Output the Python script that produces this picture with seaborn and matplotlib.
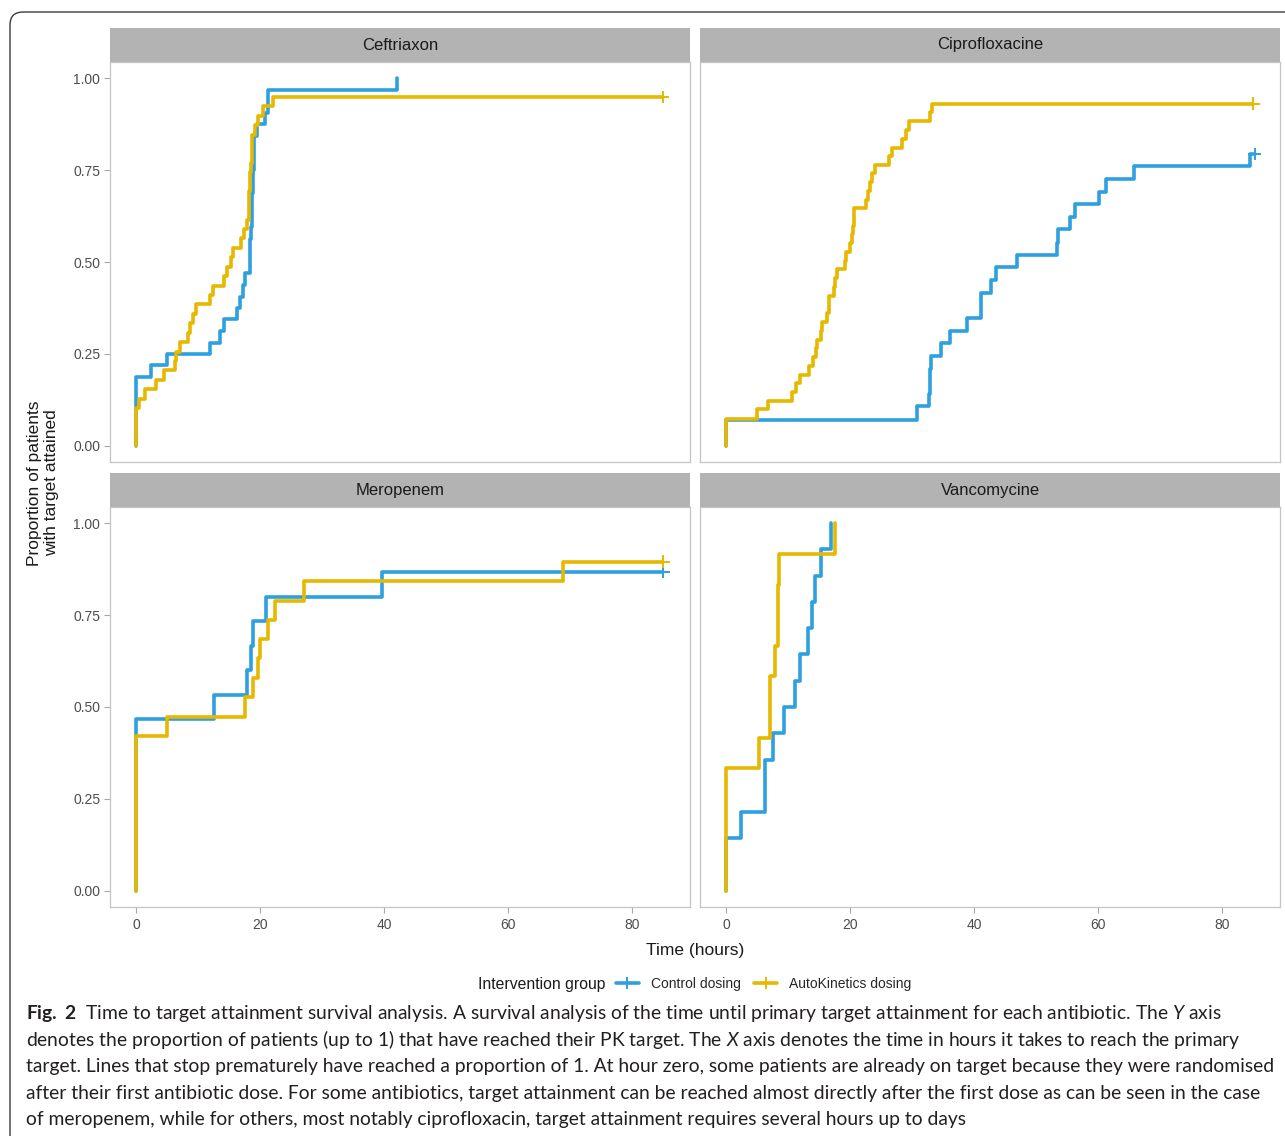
import numpy as np
import pandas as pd
import matplotlib
matplotlib.use('Agg')
import matplotlib.pyplot as plt
import seaborn as sns
from matplotlib.lines import Line2D
from matplotlib.patches import FancyBboxPatch

# values: time in hours, proportion with target attained
drugs = ['Ceftriaxon', 'Ciprofloxacine', 'Meropenem', 'Vancomycine']
groups = ['Control dosing', 'AutoKinetics dosing']

ceft_ctrl_t = [0, 0, 2.3, 5.0, 11.9, 13.5, 14.2, 16.3, 16.7, 17.2, 17.6, 18.3, 18.35, 18.4, 18.45,
               18.6, 18.65, 18.7, 18.75, 18.8, 18.95, 19.0, 19.05, 19.4, 20.7, 21.2, 42.0]
ceft_ctrl_p = [0, 0.188, 0.219, 0.25, 0.281, 0.313, 0.344, 0.375, 0.406, 0.438, 0.469, 0.5, 0.531,
               0.563, 0.594, 0.625, 0.656, 0.688, 0.719, 0.75, 0.781, 0.813, 0.844, 0.875, 0.906, 0.969, 1.0]
ceft_ak_t = [0, 0, 0.5, 1.35, 3.2, 4.4, 6.3, 6.35, 7.0, 8.4, 8.7, 9.1, 9.7, 11.8, 12.4, 14.2, 14.7,
             15.3, 15.6, 16.8, 17.4, 17.85, 18.1, 18.15, 18.2, 18.3, 18.4, 18.45, 18.6, 18.65, 18.7,
             19.2, 19.7, 20.4, 22.1, 85.0]
ceft_ak_p = [0, 0.103, 0.128, 0.154, 0.179, 0.205, 0.231, 0.256, 0.282, 0.308, 0.333, 0.359, 0.385,
             0.41, 0.436, 0.462, 0.487, 0.513, 0.538, 0.564, 0.59, 0.615, 0.641, 0.667, 0.692, 0.718,
             0.744, 0.769, 0.795, 0.821, 0.846, 0.872, 0.897, 0.923, 0.949, 0.949]

cipro_ctrl_t = [0, 0, 30.75, 32.7, 32.8, 32.9, 33.0, 34.6, 36.1, 38.8, 41.0, 41.05, 42.7, 43.5, 46.8,
                53.4, 53.45, 55.4, 56.3, 60.05, 61.2, 65.8, 84.4, 85.2]
cipro_ctrl_p = [0, 0.071, 0.107, 0.141, 0.175, 0.208, 0.243, 0.279, 0.313, 0.347, 0.382, 0.417, 0.451,
                0.486, 0.519, 0.553, 0.589, 0.623, 0.658, 0.691, 0.726, 0.761, 0.794, 0.794]
cipro_ak_t = [0, 0, 4.95, 6.7, 10.6, 11.3, 11.8, 13.3, 14.0, 14.5, 14.55, 15.2, 15.4, 16.2, 16.5, 16.55,
              17.3, 17.6, 17.85, 19.1, 19.35, 20.0, 20.3, 20.4, 20.6, 20.65, 22.6, 22.85, 23.2, 23.5,
              23.9, 26.2, 26.7, 28.3, 29.0, 29.5, 32.8, 33.2, 85.0]
cipro_ak_p = [0, 0.074, 0.099, 0.123, 0.147, 0.17, 0.194, 0.218, 0.241, 0.265, 0.288, 0.312, 0.336,
              0.36, 0.384, 0.408, 0.431, 0.456, 0.48, 0.503, 0.527, 0.551, 0.575, 0.598, 0.622, 0.646,
              0.669, 0.693, 0.717, 0.741, 0.764, 0.788, 0.811, 0.835, 0.859, 0.883, 0.907, 0.931, 0.931]

mero_ctrl_t = [0, 0, 12.6, 17.85, 18.5, 18.8, 20.9, 39.7, 85.0]
mero_ctrl_p = [0, 0.467, 0.533, 0.6, 0.667, 0.733, 0.8, 0.867, 0.867]
mero_ak_t = [0, 0, 4.95, 17.6, 18.8, 19.7, 20.0, 21.2, 22.4, 27.1, 68.8, 85.0]
mero_ak_p = [0, 0.421, 0.474, 0.526, 0.579, 0.632, 0.684, 0.737, 0.789, 0.842, 0.895, 0.895]

vanco_ctrl_t = [0, 0, 2.4, 6.2, 6.3, 7.5, 9.25, 11.0, 11.9, 13.1, 13.8, 14.35, 15.2, 16.9]
vanco_ctrl_p = [0, 0.143, 0.214, 0.286, 0.357, 0.429, 0.5, 0.571, 0.643, 0.714, 0.786, 0.857, 0.929, 1.0]
vanco_ak_t = [0, 0, 5.3, 7.0, 7.1, 7.9, 8.3, 8.4, 8.5, 17.5]
vanco_ak_p = [0, 0.333, 0.417, 0.5, 0.583, 0.667, 0.75, 0.833, 0.917, 1.0]

# censored at end of follow-up (drawn with +)
censored = [('Ceftriaxon', 'AutoKinetics dosing'), ('Ciprofloxacine', 'Control dosing'),
            ('Ciprofloxacine', 'AutoKinetics dosing'), ('Meropenem', 'Control dosing'),
            ('Meropenem', 'AutoKinetics dosing')]

series = [
    ('Ceftriaxon', 'Control dosing', ceft_ctrl_t, ceft_ctrl_p),
    ('Ceftriaxon', 'AutoKinetics dosing', ceft_ak_t, ceft_ak_p),
    ('Ciprofloxacine', 'Control dosing', cipro_ctrl_t, cipro_ctrl_p),
    ('Ciprofloxacine', 'AutoKinetics dosing', cipro_ak_t, cipro_ak_p),
    ('Meropenem', 'Control dosing', mero_ctrl_t, mero_ctrl_p),
    ('Meropenem', 'AutoKinetics dosing', mero_ak_t, mero_ak_p),
    ('Vancomycine', 'Control dosing', vanco_ctrl_t, vanco_ctrl_p),
    ('Vancomycine', 'AutoKinetics dosing', vanco_ak_t, vanco_ak_p),
]

rows = []
for drug, grp, tt, pp in series:
    for ti, pi in zip(tt, pp):
        rows.append({'drug': drug, 'group': grp, 'time': ti, 'prop': pi})
df = pd.DataFrame(rows)
cens = df.groupby(['drug', 'group']).tail(1)
cens = cens[[(d, g) in censored for d, g in zip(cens['drug'], cens['group'])]]

pal = {'Control dosing': '#2E9FDF', 'AutoKinetics dosing': '#E7B800'}

sns.set_theme(style='white')
plt.rcParams['font.family'] = ['Liberation Sans', 'DejaVu Sans']
plt.rcParams['mathtext.fontset'] = 'custom'
plt.rcParams['mathtext.rm'] = 'Lato'
plt.rcParams['mathtext.it'] = 'Lato:italic'
plt.rcParams['mathtext.bf'] = 'Lato:bold'

W, H = 1285, 1136
fig = plt.figure(figsize=(W / 100, H / 100), dpi=100)
fig.patch.set_facecolor('white')

def fx(px):
    return px / W

def fy(py):
    return 1 - py / H

# rounded border of the figure box
box = FancyBboxPatch((0.10, -1.0), 14.0, 12.24, boxstyle='round,pad=0,rounding_size=0.13',
                     transform=fig.dpi_scale_trans, fill=False, edgecolor='#3a3a3a', lw=1.0)
fig.patches.append(box)

pos = {'Ceftriaxon': (110, 62), 'Ciprofloxacine': (700, 62),
       'Meropenem': (110, 507), 'Vancomycine': (700, 507)}
pw, ph, sh = 580, 400, 34

for i, drug in enumerate(drugs):
    x0, y0 = pos[drug]
    ax = fig.add_axes([fx(x0), fy(y0 + ph), pw / W, ph / H])
    sub = df[df['drug'] == drug]
    sns.lineplot(data=sub, x='time', y='prop', hue='group', hue_order=groups, palette=pal,
                 estimator=None, sort=False, drawstyle='steps-post', lw=2.6, ax=ax, legend=False)
    cs = cens[cens['drug'] == drug]
    if len(cs):
        sns.scatterplot(data=cs, x='time', y='prop', hue='group', hue_order=groups, palette=pal,
                        marker='+', s=85, linewidth=1.4, ax=ax, legend=False, zorder=5)
    ax.set_xlim(-4.25, 89.3)
    ax.set_ylim(-0.044, 1.044)
    ax.set_xticks([0, 20, 40, 60, 80])
    ax.set_yticks([0, 0.25, 0.5, 0.75, 1.0])
    ax.set_yticklabels(['0.00', '0.25', '0.50', '0.75', '1.00'])
    ax.set_xlabel('')
    ax.set_ylabel('')
    for s in ax.spines.values():
        s.set_color('#c4c4c4')
        s.set_linewidth(0.9)
    ax.tick_params(length=4, width=0.8, color='#a8a8a8', labelcolor='#4d4d4d', labelsize=10, pad=3)
    ax.tick_params(axis='x', bottom=True, pad=4)
    ax.tick_params(axis='y', left=True)
    if i < 2:
        ax.tick_params(axis='x', bottom=False, labelbottom=False)
    if i % 2 == 1:
        ax.tick_params(axis='y', left=False, labelleft=False)

    sax = fig.add_axes([fx(x0), fy(y0), pw / W, sh / H])
    sax.set_facecolor('#b3b3b3')
    sax.set_xticks([])
    sax.set_yticks([])
    for s in sax.spines.values():
        s.set_visible(False)
    sax.text(0.5, 0.5, drug, ha='center', va='center', fontsize=12, color='#1a1a1a',
             transform=sax.transAxes)

fig.text(fx(695), fy(950), 'Time (hours)', ha='center', va='center', fontsize=12.5, color='#1a1a1a')
fig.text(fx(43), fy(483), 'Proportion of patients\nwith target attained', ha='center', va='center',
         rotation=90, fontsize=12.5, color='#1a1a1a', linespacing=1.1, multialignment='center')

# legend
fig.text(fx(478), fy(984), 'Intervention group', ha='left', va='center', fontsize=11.3, color='#1a1a1a')
handles = [Line2D([], [], color=pal[g], lw=2.6, marker='+', markersize=9, markeredgewidth=1.4)
           for g in groups]
fig.legend(handles, groups, loc='center left', bbox_to_anchor=(fx(616), fy(984)), ncol=2,
           frameon=False, fontsize=10, handlelength=1.65, handletextpad=0.85, columnspacing=1.0,
           borderpad=0, borderaxespad=0, numpoints=1)

# caption
cap_lines = [
    r'$\mathbf{Fig.}$ $\mathbf{2}$  Time to target attainment survival analysis. A survival analysis of the time until primary target attainment for each antibiotic. The $\mathit{Y}$ axis',
    r'denotes the proportion of patients (up to 1) that have reached their PK target. The $\mathit{X}$ axis denotes the time in hours it takes to reach the primary',
    'target. Lines that stop prematurely have reached a proportion of 1. At hour zero, some patients are already on target because they were randomised',
    'after their first antibiotic dose. For some antibiotics, target attainment can be reached almost directly after the first dose as can be seen in the case',
    'of meropenem, while for others, most notably ciprofloxacin, target attainment requires several hours up to days',
]
cap_y = [1019, 1046, 1072, 1099, 1125]

renderer = fig.canvas.get_renderer()
probe = fig.text(0, 0, cap_lines[2], fontsize=10, family='Lato')
w10 = probe.get_window_extent(renderer=renderer).width
probe.remove()
cap_fs = 10 * (1278 - 26) / w10

for line, yb in zip(cap_lines, cap_y):
    fig.text(fx(26), fy(yb), line, ha='left', va='baseline', fontsize=cap_fs, family='Lato',
             color='#231f20')

fig.savefig('out.png', dpi=100)
